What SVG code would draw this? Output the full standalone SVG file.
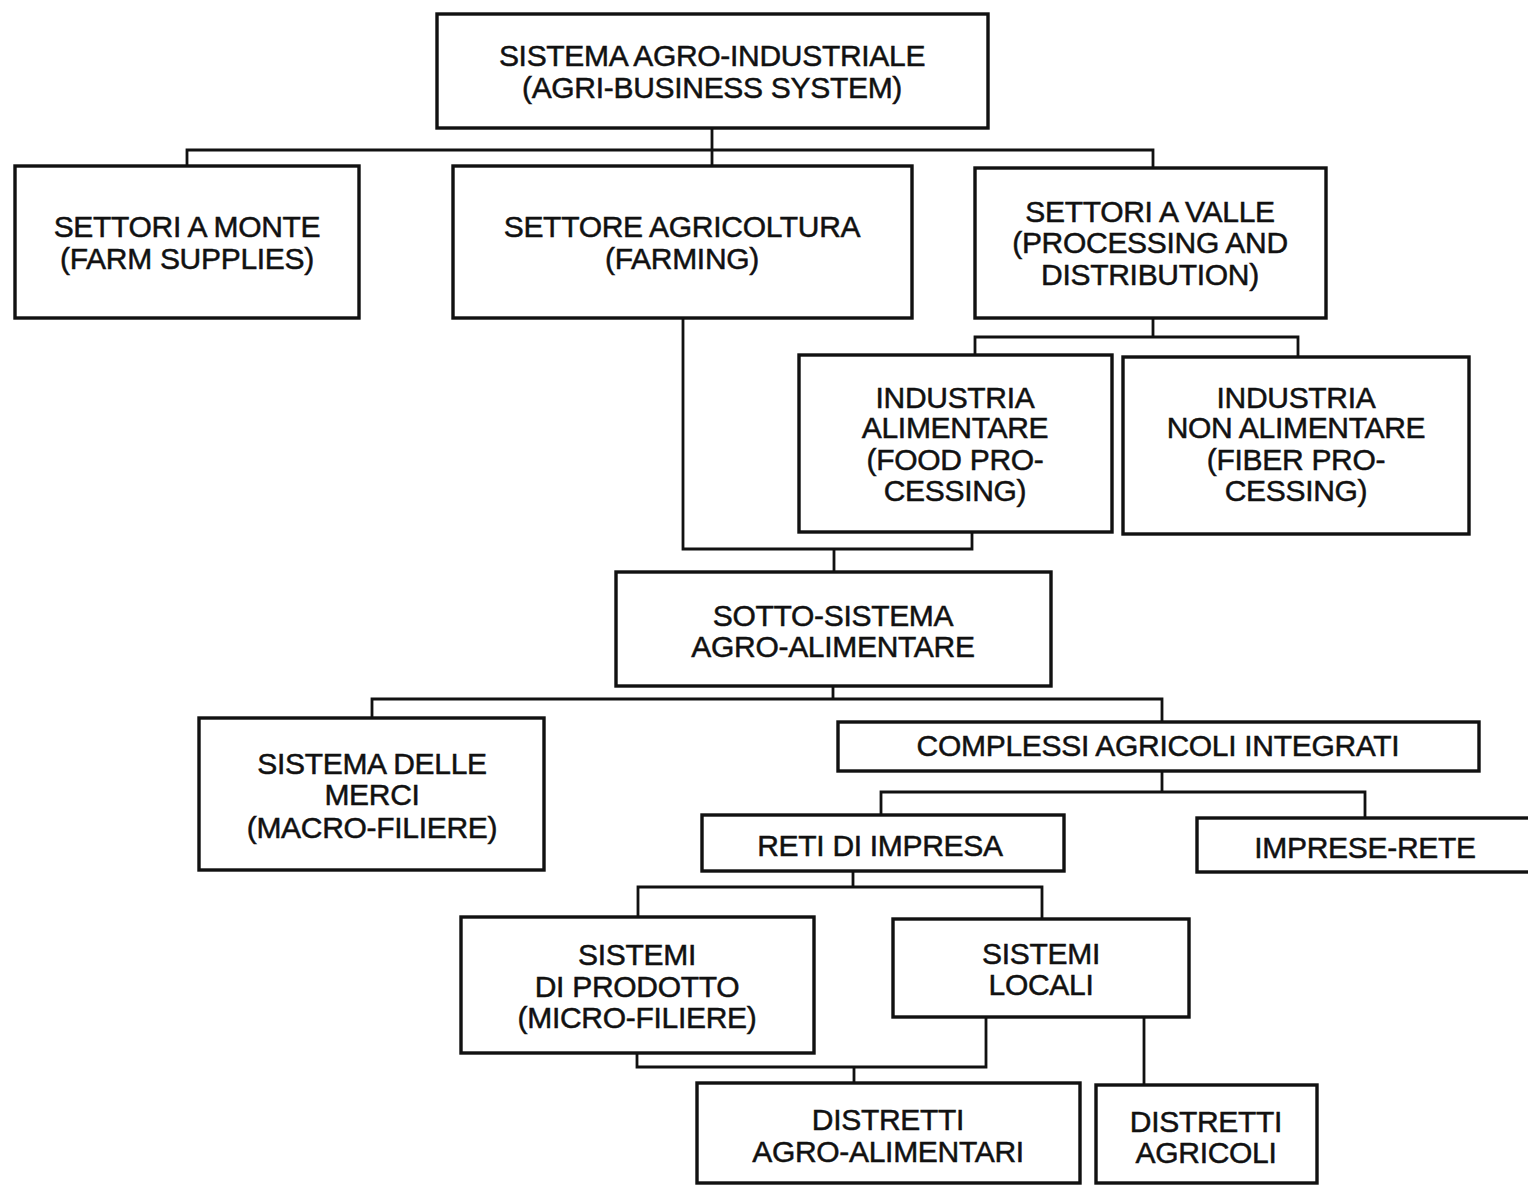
<svg xmlns="http://www.w3.org/2000/svg" width="1528" height="1185" viewBox="0 0 1528 1185">
<style>
.b{fill:#fff;stroke:#111;stroke-width:3.4}
.c{fill:none;stroke:#111;stroke-width:2.8}
text{font-family:"Liberation Sans",Arial,sans-serif;font-size:30px;fill:#111;stroke:#111;stroke-width:0.5;text-anchor:middle;letter-spacing:-0.3px}
</style>
<rect width="1528" height="1185" fill="#fff"/>
<g id="connectors">
<path class="c" d="M712 128V166M187 166V150H1153V168"/>
<path class="c" d="M1153 318V337M975 355V337H1298V357"/>
<path class="c" d="M683 318V549H972V532M834 549V572"/>
<path class="c" d="M833 686V699M372 718V699H1162V722"/>
<path class="c" d="M1162 771V792M881 815V792H1365V818"/>
<path class="c" d="M853 871V887M638 917V887H1042V919"/>
<path class="c" d="M637 1053V1067H986V1017M854 1067V1083"/>
<path class="c" d="M1144 1017V1085"/>
</g>
<g id="n1"><rect class="b" x="437" y="14" width="551" height="114"/><text x="712" y="66">SISTEMA AGRO-INDUSTRIALE</text><text x="712" y="98">(AGRI-BUSINESS SYSTEM)</text></g>
<g id="n2"><rect class="b" x="15" y="166" width="344" height="152"/><text x="187" y="237">SETTORI A MONTE</text><text x="187" y="269">(FARM SUPPLIES)</text></g>
<g id="n3"><rect class="b" x="453" y="166" width="459" height="152"/><text x="682" y="237">SETTORE AGRICOLTURA</text><text x="682" y="269">(FARMING)</text></g>
<g id="n4"><rect class="b" x="975" y="168" width="351" height="150"/><text x="1150" y="222">SETTORI A VALLE</text><text x="1150" y="253">(PROCESSING AND</text><text x="1150" y="285">DISTRIBUTION)</text></g>
<g id="n5"><rect class="b" x="799" y="355" width="313" height="177"/><text x="955" y="408">INDUSTRIA</text><text x="955" y="438">ALIMENTARE</text><text x="955" y="470">(FOOD PRO-</text><text x="955" y="501">CESSING)</text></g>
<g id="n6"><rect class="b" x="1123" y="357" width="346" height="177"/><text x="1296" y="408">INDUSTRIA</text><text x="1296" y="438">NON ALIMENTARE</text><text x="1296" y="470">(FIBER PRO-</text><text x="1296" y="501">CESSING)</text></g>
<g id="n7"><rect class="b" x="616" y="572" width="435" height="114"/><text x="833" y="626">SOTTO-SISTEMA</text><text x="833" y="657">AGRO-ALIMENTARE</text></g>
<g id="n8"><rect class="b" x="199" y="718" width="345" height="152"/><text x="372" y="774">SISTEMA DELLE</text><text x="372" y="805">MERCI</text><text x="372" y="838">(MACRO-FILIERE)</text></g>
<g id="n9"><rect class="b" x="838" y="722" width="641" height="49"/><text x="1158" y="756">COMPLESSI AGRICOLI INTEGRATI</text></g>
<g id="n10"><rect class="b" x="702" y="815" width="362" height="56"/><text x="880" y="856">RETI DI IMPRESA</text></g>
<g id="n11"><rect class="b" x="1197" y="818" width="340" height="54"/><text x="1365" y="858">IMPRESE-RETE</text></g>
<g id="n12"><rect class="b" x="461" y="917" width="353" height="136"/><text x="637" y="965">SISTEMI</text><text x="637" y="997">DI PRODOTTO</text><text x="637" y="1028">(MICRO-FILIERE)</text></g>
<g id="n13"><rect class="b" x="893" y="919" width="296" height="98"/><text x="1041" y="964">SISTEMI</text><text x="1041" y="995">LOCALI</text></g>
<g id="n14"><rect class="b" x="697" y="1083" width="383" height="100"/><text x="888" y="1130">DISTRETTI</text><text x="888" y="1162">AGRO-ALIMENTARI</text></g>
<g id="n15"><rect class="b" x="1096" y="1085" width="221" height="98"/><text x="1206" y="1132">DISTRETTI</text><text x="1206" y="1163">AGRICOLI</text></g>
</svg>
